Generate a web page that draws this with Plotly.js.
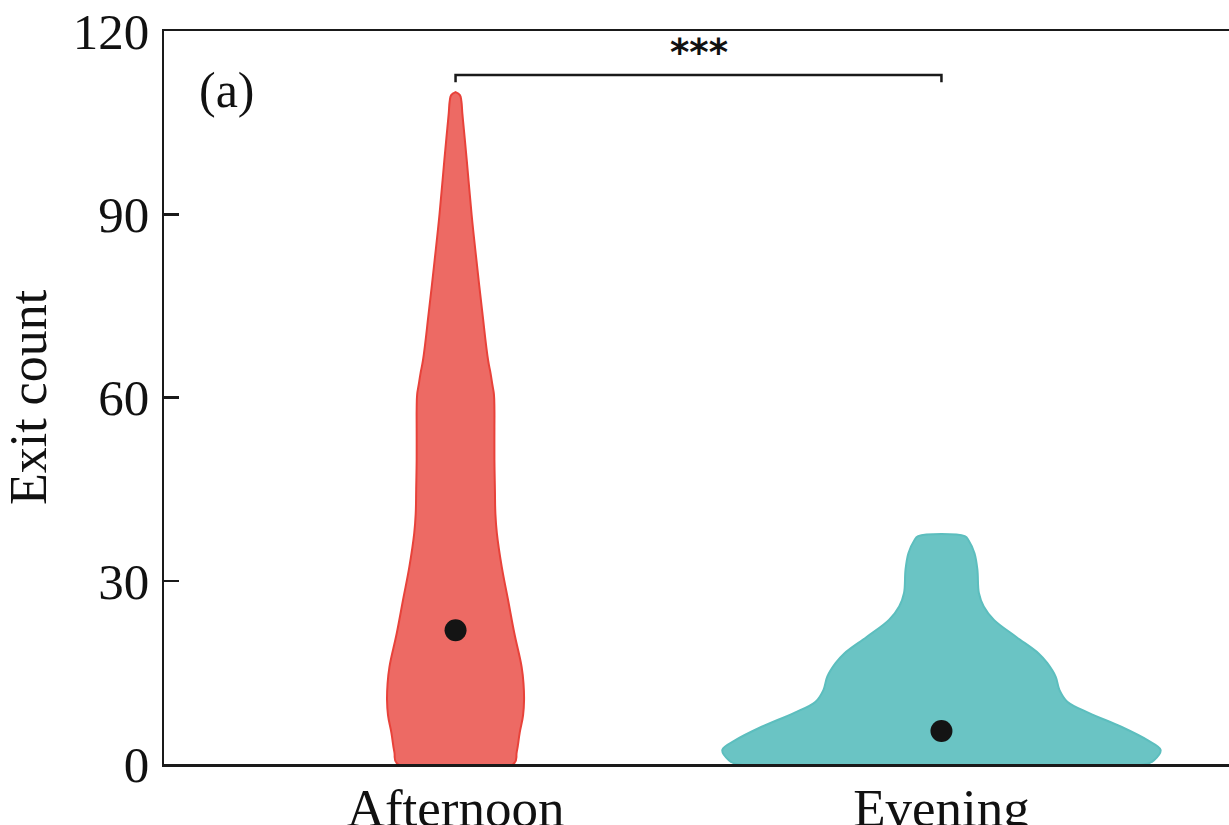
<!DOCTYPE html>
<html>
<head>
<meta charset="utf-8">
<script src="https://cdn.plot.ly/plotly-3.0.1.min.js"></script>
<style>html,body{margin:0;padding:0;overflow:hidden;background:#fff;}</style>
</head>
<body>
<div id="chart"></div>
<script>
// Categories
const categories = ['Afternoon', 'Evening'];
// Violin density profile: exit count levels and half-widths (x-axis units)
const afternoonY = [0, 2, 5.1, 8, 10.5, 13, 15.9, 21.4, 26.9, 32.3, 37.8, 41, 45, 49.8, 55, 58, 60.5, 62, 64, 66.1, 74, 82.5, 90, 98.9, 104, 106.5, 108.5, 109.5, 110];
const afternoonW = [0.119, 0.126, 0.132, 0.139, 0.141, 0.140, 0.136, 0.121, 0.108, 0.095, 0.085, 0.082, 0.081, 0.080, 0.080, 0.080, 0.079, 0.076, 0.072, 0.067, 0.055, 0.043, 0.033, 0.023, 0.017, 0.014, 0.012, 0.009, 0.0];
const eveningY = [0, 0.65, 2.3, 3.9, 6.1, 8.3, 10.2, 12.1, 14.3, 16.5, 18.1, 20.8, 23.6, 25.8, 28, 31.8, 34.5, 36.6, 37.3];
const eveningW = [0.422, 0.438, 0.451, 0.424, 0.370, 0.305, 0.259, 0.243, 0.235, 0.218, 0.200, 0.154, 0.108, 0.087, 0.077, 0.074, 0.068, 0.056, 0.048];
// Summary point (mean) per group
const groupMeans = [21.9, 5.4];
// Y tick values
const yTicks = [0, 30, 60, 90, 120];
const signifLabel = '***';
const panelLabel = '(a)';

function violinPath(pos, ys, ws) {
  const x = [], y = [];
  for (let i = 0; i < ys.length; i++) { x.push(pos + ws[i]); y.push(ys[i]); }
  for (let i = ys.length - 1; i >= 0; i--) { x.push(pos - ws[i]); y.push(ys[i]); }
  x.push(x[0]); y.push(y[0]);
  return {x, y};
}

const a = violinPath(0, afternoonY, afternoonW);
const e = violinPath(1, eveningY, eveningW);

const traces = [
  {type: 'scatter', mode: 'lines', x: a.x, y: a.y, fill: 'toself',
   fillcolor: 'rgb(237,106,100)', line: {color: 'rgb(232,66,58)', width: 2, shape: 'spline', smoothing: 1.2},
   hoverinfo: 'skip', showlegend: false},
  {type: 'scatter', mode: 'lines', x: e.x, y: e.y, fill: 'toself',
   fillcolor: 'rgb(106,196,196)', line: {color: 'rgb(92,190,190)', width: 2, shape: 'spline', smoothing: 1.0},
   hoverinfo: 'skip', showlegend: false},
  {type: 'scatter', mode: 'markers', x: [0, 1], y: groupMeans,
   marker: {color: '#141414', size: 22}, showlegend: false, hoverinfo: 'skip'}
];

const serif = 'Liberation Serif, Times New Roman, serif';
const layout = {
  width: 1233, height: 825,
  margin: {l: 164, r: 0, t: 31, b: 61},
  paper_bgcolor: '#fff', plot_bgcolor: '#fff',
  showlegend: false,
  xaxis: {
    range: [-0.6, 1.6], tickvals: [0, 1], ticktext: categories,
    showgrid: false, zeroline: false, ticks: '',
    showline: true, linecolor: '#1a1a1a', linewidth: 2.5, mirror: true,
    ticklabelstandoff: -4,
    tickfont: {family: serif, size: 53, color: '#111'}
  },
  yaxis: {
    range: [0, 120], tickvals: yTicks,
    showgrid: false, zeroline: false,
    ticks: 'inside', ticklen: 15, tickwidth: 2.5, tickcolor: '#1a1a1a',
    showline: true, linecolor: '#1a1a1a', linewidth: 2.5, mirror: true,
    ticklabelstandoff: 2,
    tickfont: {family: serif, size: 51, color: '#111'},
    title: {text: 'Exit count', font: {family: serif, size: 52, color: '#111'}, standoff: 12}
  },
  shapes: [
    {type: 'path', xref: 'x', yref: 'y',
     path: 'M 0,111.6 L 0,112.8 L 1,112.8 L 1,111.6',
     line: {color: '#1a1a1a', width: 2.5}}
  ],
  annotations: [
    {text: signifLabel, xref: 'x', yref: 'y', x: 0.5, y: 113.3, yanchor: 'bottom', yshift: -4, showarrow: false,
     font: {family: 'DejaVu Sans, sans-serif', size: 37, color: '#111', weight: 'bold'}},
    {text: panelLabel, xref: 'paper', yref: 'paper', x: 0.031, y: 0.92, xanchor: 'left', yanchor: 'middle',
     showarrow: false, font: {family: serif, size: 50, color: '#111'}}
  ]
};

Plotly.newPlot('chart', traces, layout, {displayModeBar: false, staticPlot: true});
</script>
</body>
</html>
